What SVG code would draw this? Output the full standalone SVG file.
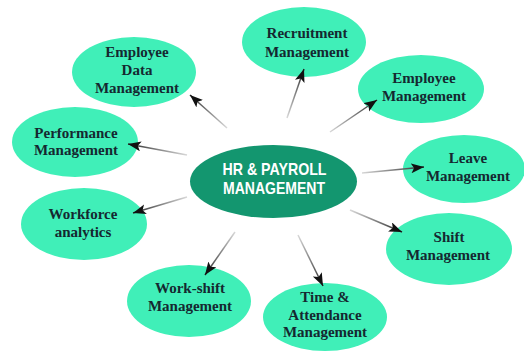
<svg xmlns="http://www.w3.org/2000/svg" width="524" height="351" viewBox="0 0 524 351">
<defs>
<style>
.node ellipse{fill:#40efb8;}
.node text{font-family:"Liberation Serif","Times New Roman",serif;font-weight:bold;font-size:15px;fill:#152830;text-anchor:middle;}
.hub ellipse{fill:#13966f;}
.hub text{font-family:"Liberation Sans",Arial,sans-serif;font-weight:bold;font-size:17px;fill:#ffffff;text-anchor:middle;}
.conn line{stroke-width:1.5;marker-end:url(#arr);}
.g0{stop-color:#d8d8d8;}
.g1{stop-color:#2a2a2a;}
</style>
<marker id="arr" markerUnits="userSpaceOnUse" markerWidth="14" markerHeight="12" refX="13" refY="5" orient="auto">
<path d="M0,0 L13,5 L0,10 L3,5 z" fill="#111"/>
</marker>
<linearGradient id="l1" gradientUnits="userSpaceOnUse" x1="227" y1="128" x2="190" y2="95"><stop offset="0" class="g0"/><stop offset="1" class="g1"/></linearGradient>
<linearGradient id="l2" gradientUnits="userSpaceOnUse" x1="187" y1="155" x2="128" y2="144"><stop offset="0" class="g0"/><stop offset="1" class="g1"/></linearGradient>
<linearGradient id="l3" gradientUnits="userSpaceOnUse" x1="187" y1="197" x2="133" y2="213"><stop offset="0" class="g0"/><stop offset="1" class="g1"/></linearGradient>
<linearGradient id="l4" gradientUnits="userSpaceOnUse" x1="235" y1="232" x2="205" y2="275"><stop offset="0" class="g0"/><stop offset="1" class="g1"/></linearGradient>
<linearGradient id="l5" gradientUnits="userSpaceOnUse" x1="298" y1="235" x2="323" y2="286"><stop offset="0" class="g0"/><stop offset="1" class="g1"/></linearGradient>
<linearGradient id="l6" gradientUnits="userSpaceOnUse" x1="350" y1="210" x2="402" y2="232"><stop offset="0" class="g0"/><stop offset="1" class="g1"/></linearGradient>
<linearGradient id="l7" gradientUnits="userSpaceOnUse" x1="362" y1="173" x2="424" y2="167"><stop offset="0" class="g0"/><stop offset="1" class="g1"/></linearGradient>
<linearGradient id="l8" gradientUnits="userSpaceOnUse" x1="330" y1="132" x2="377" y2="100"><stop offset="0" class="g0"/><stop offset="1" class="g1"/></linearGradient>
<linearGradient id="l9" gradientUnits="userSpaceOnUse" x1="287" y1="118" x2="304" y2="69"><stop offset="0" class="g0"/><stop offset="1" class="g1"/></linearGradient>
</defs>
<rect width="524" height="351" fill="#ffffff"/>
<g id="hub" class="hub">
<ellipse cx="273.5" cy="181.5" rx="83.5" ry="36.5"/>
<text x="274.5" y="174.5" textLength="104" lengthAdjust="spacingAndGlyphs">HR &amp; PAYROLL</text>
<text x="274" y="194" textLength="102" lengthAdjust="spacingAndGlyphs">MANAGEMENT</text>
</g>
<g id="employee-data" class="node">
<ellipse cx="134" cy="72" rx="62" ry="35"/>
<text x="137" y="57">Employee</text>
<text x="137" y="75">Data</text>
<text x="137" y="93">Management</text>
</g>
<g id="performance" class="node">
<ellipse cx="75" cy="142" rx="63" ry="35"/>
<text x="76" y="138">Performance</text>
<text x="76" y="155">Management</text>
</g>
<g id="workforce" class="node">
<ellipse cx="84" cy="224" rx="63" ry="36"/>
<text x="83" y="219">Workforce</text>
<text x="83" y="237">analytics</text>
</g>
<g id="work-shift" class="node">
<ellipse cx="189" cy="301" rx="62" ry="36"/>
<text x="190" y="293">Work-shift</text>
<text x="190" y="311">Management</text>
</g>
<g id="time-attendance" class="node">
<ellipse cx="325" cy="317" rx="62" ry="34"/>
<text x="325" y="302">Time &amp;</text>
<text x="325" y="320">Attendance</text>
<text x="325" y="337">Management</text>
</g>
<g id="shift" class="node">
<ellipse cx="449" cy="249" rx="63" ry="36"/>
<text x="449" y="242">Shift</text>
<text x="448" y="260">Management</text>
</g>
<g id="leave" class="node">
<ellipse cx="464" cy="169" rx="61" ry="34"/>
<text x="468" y="163">Leave</text>
<text x="468" y="181">Management</text>
</g>
<g id="employee-mgmt" class="node">
<ellipse cx="421" cy="89" rx="63" ry="34"/>
<text x="424" y="83">Employee</text>
<text x="424" y="101">Management</text>
</g>
<g id="recruitment" class="node">
<ellipse cx="304" cy="42" rx="62" ry="35"/>
<text x="307" y="38">Recruitment</text>
<text x="307" y="57">Management</text>
</g>
<g id="connectors" class="conn">
<line x1="227" y1="128" x2="190" y2="95" stroke="url(#l1)"/>
<line x1="187" y1="155" x2="128" y2="144" stroke="url(#l2)"/>
<line x1="187" y1="197" x2="133" y2="213" stroke="url(#l3)"/>
<line x1="235" y1="232" x2="205" y2="275" stroke="url(#l4)"/>
<line x1="298" y1="235" x2="323" y2="286" stroke="url(#l5)"/>
<line x1="350" y1="210" x2="402" y2="232" stroke="url(#l6)"/>
<line x1="362" y1="173" x2="424" y2="167" stroke="url(#l7)"/>
<line x1="330" y1="132" x2="377" y2="100" stroke="url(#l8)"/>
<line x1="287" y1="118" x2="304" y2="69" stroke="url(#l9)"/>
</g>
</svg>
